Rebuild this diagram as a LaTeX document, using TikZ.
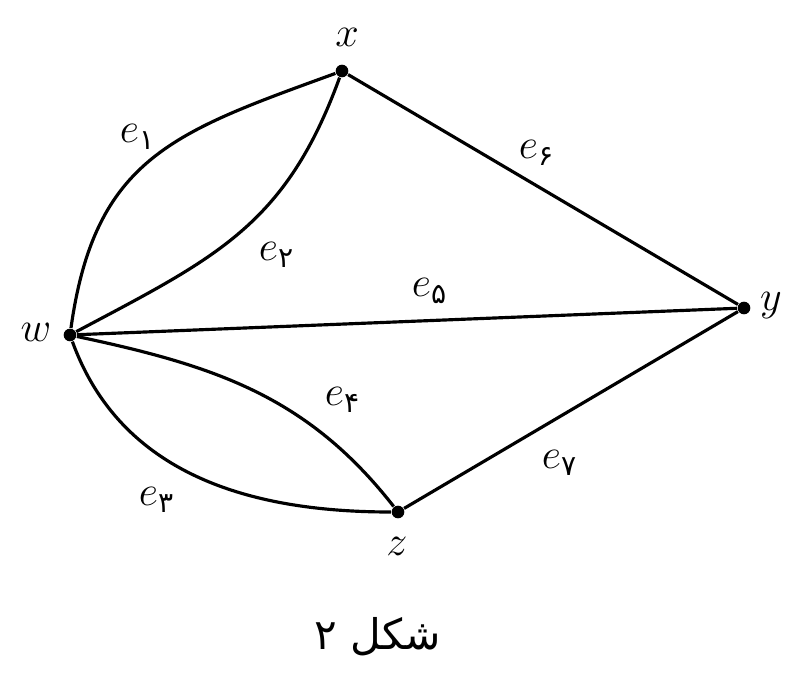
\documentclass[tikz,border=0pt]{standalone}
\usepackage{amsmath}
\usepackage{fontspec}
\usetikzlibrary{positioning}
\TeXXeTstate=1
\newfontfamily\persfont[Script=Arabic]{DejaVu Sans}
\newcommand{\pd}[1]{\text{\persfont #1}}
\tikzset{
  vert/.style={circle,fill=black,inner sep=0pt,minimum size=3.6pt},
  vlabel/.style={font=\large,inner sep=1pt},
  elabel/.style={font=\large,inner sep=1pt},
  edge/.style={line width=0.9pt,black},
}

\begin{document}
\begin{tikzpicture}[x=0.01cm,y=0.01cm]
  \useasboundingbox (0,0) rectangle (788,672);
  % vertices
  \node[vert] (x) at (342,601) {};
  \node[vert] (w) at (70,337) {};
  \node[vert] (y) at (744,364) {};
  \node[vert] (z) at (398,160) {};
  \node[vlabel] (lx) at (347,635) {$x$};
  \node[vlabel] (lw) at (36,340) {$w$};
  \node[vlabel] (ly) at (771,366) {$y$};
  \node[vlabel] (lz) at (397,126) {$z$};
  % edges
  \draw[edge] (w) to[out=82,in=200,looseness=1.2] (x);
  \draw[edge] (w) to[out=28,in=250,looseness=1.1] (x);
  \draw[edge] (w) to[out=-70,in=180] (z);
  \draw[edge] (w) to[out=-12,in=128] (z);
  \draw[edge] (w) -- (y);
  \draw[edge] (x) -- (y);
  \draw[edge] (z) -- (y);
  % edge labels
  \node[elabel] (e1) at (138,535) {$e_{\pd{۱}}$};
  \node[elabel] (e2) at (277,417) {$e_{\pd{۲}}$};
  \node[elabel] (e3) at (157,172) {$e_{\pd{۳}}$};
  \node[elabel] (e4) at (343,272) {$e_{\pd{۴}}$};
  \node[elabel] (e5) at (430,381) {$e_{\pd{۵}}$};
  \node[elabel] (e6) at (537,519) {$e_{\pd{۶}}$};
  \node[elabel] (e7) at (560,209) {$e_{\pd{۷}}$};
  % caption
  \node[font=\large\persfont] (cap) at (378,35) {\beginR شکل ۲\endR};
\end{tikzpicture}
\end{document}
